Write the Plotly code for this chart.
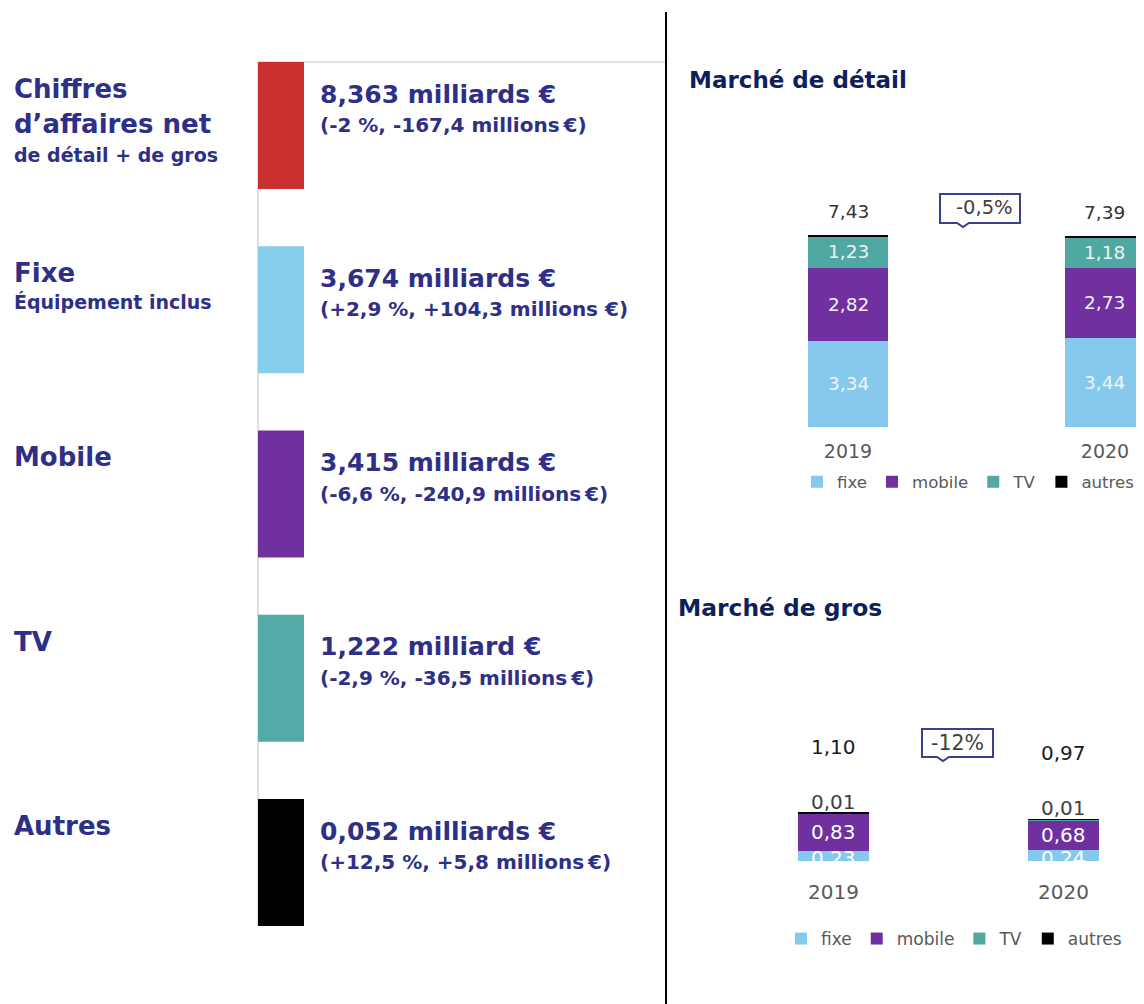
import plotly.graph_objects as go

W, H = 1144, 1004
OFF = 8  # browser default body margin: figure is drawn 8px right/down

# ---------------- data ----------------
# Left infographic
block_titles = [["Chiffres", "d’affaires net"], ["Fixe"], ["Mobile"], ["TV"], ["Autres"]]
block_subtitles = ["de détail + de gros", "Équipement inclus", "", "", ""]
block_values = ["8,363 milliards €", "3,674 milliards €", "3,415 milliards €",
                "1,222 milliard €", "0,052 milliards €"]
block_changes = ["(-2 %, -167,4 millions\u202f€)", "(+2,9 %, +104,3 millions €)",
                 "(-6,6 %, -240,9 millions\u202f€)", "(-2,9 %, -36,5 millions\u202f€)",
                 "(+12,5 %, +5,8 millions\u202f€)"]
block_colors = ["#C8312F", "#87CDEC", "#7030A0", "#54AAA6", "#000000"]

# Charts
years = ["2019", "2020"]
series_names = ["fixe", "mobile", "TV", "autres"]
series_colors = ["#85C9EC", "#7030A0", "#4FA9A2", "#000000"]

detail_fixe = [3.34, 3.44]
detail_mobile = [2.82, 2.73]
detail_tv = [1.23, 1.18]
detail_autres = [0.04, 0.04]
detail_total = [7.43, 7.39]
detail_change = "-0,5%"

gros_fixe = [0.23, 0.24]
gros_mobile = [0.83, 0.68]
gros_tv = [0.01, 0.01]
gros_autres = [0.01, 0.01]
gros_total = [1.10, 0.97]
gros_change = "-12%"

# ---------------- helpers ----------------
def px(x):
    return (x - OFF) / W

def py(y):
    return 1 - (y - OFF) / H

def fr(v):
    return f"{v:.2f}".replace(".", ",")

NAVY = "#2E3087"
TITLE_NAVY = "#0F1F5C"
BOLD = "DejaVu Sans"
CHART_FONT = "DejaVu Sans"

fig = go.Figure()
shapes = []
annotations = []

# ---------------- left infographic ----------------
shapes.append(dict(type="line", xref="paper", yref="paper", x0=px(258), x1=px(666),
                   y0=py(62), y1=py(62), line=dict(color="#C0C0C0", width=1)))
shapes.append(dict(type="line", xref="paper", yref="paper", x0=px(258), x1=px(258),
                   y0=py(62), y1=py(925), line=dict(color="#C0C0C0", width=1)))
shapes.append(dict(type="line", xref="paper", yref="paper", x0=px(666), x1=px(666),
                   y0=py(12), y1=0, line=dict(color="#000000", width=2)))

for i in range(len(block_values)):
    top = 62 + i * 184.25
    shapes.append(dict(type="rect", xref="paper", yref="paper", x0=px(258), x1=px(304),
                       y0=py(top), y1=py(top + 127), fillcolor=block_colors[i],
                       line=dict(width=0)))
    for j, line in enumerate(block_titles[i]):
        annotations.append(dict(xref="paper", yref="paper", x=px(12), y=py(top + 27 + 35 * j),
                                text=f"<b>{line}</b>", showarrow=False, xanchor="left",
                                yanchor="middle", font=dict(family=BOLD, size=26, color=NAVY)))
    if block_subtitles[i]:
        off = 93 if len(block_titles[i]) > 1 else 56
        annotations.append(dict(xref="paper", yref="paper", x=px(12), y=py(top + off),
                                text=f"<b>{block_subtitles[i]}</b>", showarrow=False,
                                xanchor="left", yanchor="middle",
                                font=dict(family=BOLD, size=19, color=NAVY)))
    annotations.append(dict(xref="paper", yref="paper", x=px(318), y=py(top + 32),
                            text=f"<b>{block_values[i]}</b>", showarrow=False, xanchor="left",
                            yanchor="middle", font=dict(family=BOLD, size=25, color=NAVY)))
    annotations.append(dict(xref="paper", yref="paper", x=px(318), y=py(top + 63),
                            text=f"<b>{block_changes[i]}</b>", showarrow=False, xanchor="left",
                            yanchor="middle", font=dict(family=BOLD, size=20, color=NAVY)))

# ---------------- chart titles ----------------
annotations.append(dict(xref="paper", yref="paper", x=px(687), y=py(80),
                        text="<b>Marché de détail</b>", showarrow=False, xanchor="left",
                        yanchor="middle", font=dict(family=BOLD, size=23, color=TITLE_NAVY)))
annotations.append(dict(xref="paper", yref="paper", x=px(676), y=py(608),
                        text="<b>Marché de gros</b>", showarrow=False, xanchor="left",
                        yanchor="middle", font=dict(family=BOLD, size=23.4, color=TITLE_NAVY)))

# ---------------- bars ----------------
detail_series = [detail_fixe, detail_mobile, detail_tv, detail_autres]
gros_series = [gros_fixe, gros_mobile, gros_tv, gros_autres]

for name, vals, col in zip(series_names, detail_series, series_colors):
    fig.add_trace(go.Bar(x=years, y=vals, name=name, marker=dict(color=col, line=dict(width=0)),
                         width=0.311, xaxis="x", yaxis="y", legend="legend", hoverinfo="skip"))
for name, vals, col in zip(series_names, gros_series, series_colors):
    fig.add_trace(go.Bar(x=years, y=vals, name=name, marker=dict(color=col, line=dict(width=0)),
                         width=0.309, xaxis="x2", yaxis="y2", legend="legend2", hoverinfo="skip"))

# segment labels (détail: fixe, mobile, TV inside; total above)
for k in range(len(years)):
    base = 0.0
    for s, vals in enumerate(detail_series):
        v = vals[k]
        if s < 3:
            annotations.append(dict(xref="x", yref="y", x=k, y=base + v / 2,
                                    text=fr(v), showarrow=False, yanchor="middle",
                                    font=dict(family=CHART_FONT, size=18.5, color="#F2F2F6")))
        base += v
    annotations.append(dict(xref="x", yref="y", x=k, y=base, text=fr(detail_total[k]),
                            showarrow=False, yanchor="middle", yshift=24,
                            font=dict(family=CHART_FONT, size=18.5, color="#333333")))

# gros labels
for k in range(len(years)):
    base = 0.0
    for s, vals in enumerate(gros_series):
        v = vals[k]
        if s < 2:
            annotations.append(dict(xref="x2", yref="y2", x=k, y=base + v / 2,
                                    text=fr(v), showarrow=False, yanchor="middle",
                                    yshift=(0 if s == 1 else -2),
                                    font=dict(family=CHART_FONT, size=20, color="#FFFFFF")))
        base += v
    annotations.append(dict(xref="x2", yref="y2", x=k, y=base, text=fr(gros_tv[k]),
                            showarrow=False, yanchor="middle", yshift=11,
                            font=dict(family=CHART_FONT, size=20, color="#404040")))
    annotations.append(dict(xref="x2", yref="y2", x=k, y=base, text=fr(gros_total[k]),
                            showarrow=False, yanchor="middle", yshift=66,
                            font=dict(family=CHART_FONT, size=20, color="#1A1A1A")))

# ---------------- callouts ----------------
def callout(x0, y0, x1, y1, tip):
    pts = [(x0, y0), (x1, y0), (x1, y1), (tip + 6, y1), (tip, y1 + 4), (tip - 6, y1), (x0, y1)]
    d = "M " + " L ".join(f"{px(a):.5f},{py(b):.5f}" for a, b in pts) + " Z"
    return dict(type="path", xref="paper", yref="paper", path=d, fillcolor="white",
                line=dict(color="#3A3F8F", width=2))

shapes.append(callout(940, 194, 1020, 223, 963))
annotations.append(dict(xref="paper", yref="paper", x=px(984), y=py(207), text=detail_change,
                        showarrow=False, xanchor="center", yanchor="middle",
                        font=dict(family=CHART_FONT, size=19.5, color="#404040")))
shapes.append(callout(922, 729, 993, 757, 943))
annotations.append(dict(xref="paper", yref="paper", x=px(957), y=py(743), text=gros_change,
                        showarrow=False, xanchor="center", yanchor="middle",
                        font=dict(family=CHART_FONT, size=20.5, color="#404040")))

# ---------------- layout ----------------
ax_common = dict(type="category", showgrid=False, zeroline=False, showline=False, ticks="",
                 fixedrange=True)
fig.update_layout(
    width=W, height=H,
    margin=dict(l=0, r=0, t=0, b=0),
    paper_bgcolor="white", plot_bgcolor="rgba(0,0,0,0)",
    barmode="stack", bargap=0,
    showlegend=True,
    xaxis=dict(ax_common, domain=[px(680), px(1144)], range=[-0.6537, 1.1518], anchor="y",
               tickfont=dict(family=CHART_FONT, size=19, color="#595959"), ticklabelstandoff=11),
    yaxis=dict(domain=[py(427), py(180)], range=[0, 9.559], visible=False, anchor="x"),
    xaxis2=dict(ax_common, domain=[px(680), px(1144)], range=[-0.667, 1.35], anchor="y2",
                tickfont=dict(family=CHART_FONT, size=20, color="#595959"), ticklabelstandoff=17),
    yaxis2=dict(domain=[py(861), py(700)], range=[0, 3.618], visible=False, anchor="x2"),
    legend=dict(orientation="h", x=px(797), xanchor="left", y=py(482), yanchor="middle",
                traceorder="normal", bgcolor="rgba(0,0,0,0)", itemclick=False,
                font=dict(family=CHART_FONT, size=16.6, color="#595959")),
    legend2=dict(orientation="h", x=px(781), xanchor="left", y=py(939), yanchor="middle",
                 traceorder="normal", bgcolor="rgba(0,0,0,0)", itemclick=False,
                 font=dict(family=CHART_FONT, size=17, color="#595959")),
    shapes=shapes,
    annotations=annotations,
)

fig.write_html("out.html", config={"displayModeBar": False})
